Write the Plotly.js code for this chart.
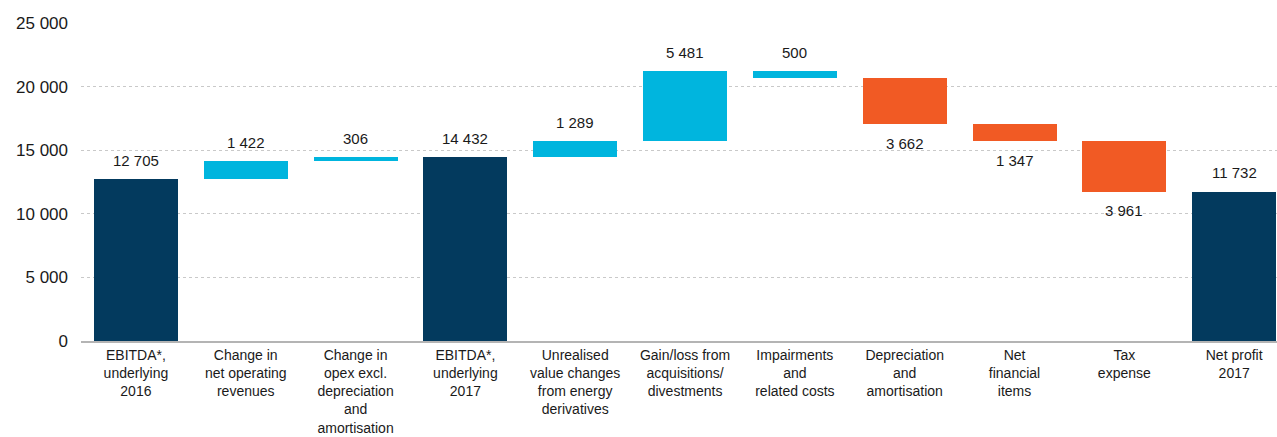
<!DOCTYPE html>
<html>
<head>
<meta charset="utf-8">
<script src="https://cdn.plot.ly/plotly-3.0.1.min.js"></script>
<style>
html,body{margin:0;padding:0;background:#fff;overflow:hidden;}
#chart{width:1277px;height:437px;}
</style>
</head>
<body>
<div id="chart"></div>
<script>
const categories = [
  "EBITDA*,<br>underlying<br>2016",
  "Change in<br>net operating<br>revenues",
  "Change in<br>opex excl.<br>depreciation<br>and<br>amortisation",
  "EBITDA*,<br>underlying<br>2017",
  "Unrealised<br>value changes<br>from energy<br>derivatives",
  "Gain/loss from<br>acquisitions/<br>divestments",
  "Impairments<br>and<br>related costs",
  "Depreciation<br>and<br>amortisation",
  "Net<br>financial<br>items",
  "Tax<br>expense",
  "Net profit<br>2017"
];
const values = [12705, 1422, 306, 14432, 1289, 5481, -500, -3662, -1347, -3961, 11732];
const kinds = ["total", "up", "up", "total", "up", "up", "up", "down", "down", "down", "total"];
const yTickValues = [0, 5000, 10000, 15000, 20000, 25000];

const COLORS = {total: "#033a5e", up: "#00b5de", down: "#f15a24"};

function fmt(n) {
  const s = String(Math.abs(n));
  return s.replace(/\B(?=(\d{3})+(?!\d))/g, " ");
}

const bases = [], heights = [], colors = [], annotations = [];
let running = 0;
values.forEach((v, i) => {
  const k = kinds[i];
  let base, h;
  if (k === "total") { base = 0; h = v; running = v; }
  else { base = running; h = v; running = running + v; }
  bases.push(base); heights.push(h); colors.push(COLORS[k]);
  const top = Math.max(base, base + h), bottom = Math.min(base, base + h);
  if (k === "down") {
    annotations.push({x: categories[i], y: bottom, xref: "x", yref: "y", text: fmt(v),
      showarrow: false, yanchor: "middle", yshift: -19});
  } else {
    annotations.push({x: categories[i], y: top, xref: "x", yref: "y", text: fmt(v),
      showarrow: false, yanchor: "middle", yshift: 19});
  }
});

const trace = {
  type: "bar",
  x: categories,
  y: heights,
  base: bases,
  marker: {color: colors, line: {width: 0}},
  width: 0.765,
  hoverinfo: "skip"
};

const layout = {
  width: 1277, height: 437,
  margin: {l: 81, r: 0, t: 23, b: 96},
  paper_bgcolor: "#ffffff", plot_bgcolor: "#ffffff",
  font: {family: "Liberation Sans, Arial, sans-serif", size: 15, color: "#1a1a1a"},
  separators: ". ",
  showlegend: false,
  bargap: 0,
  xaxis: {
    type: "category",
    range: [-0.5, 10.39],
    showgrid: false,
    showline: true, linecolor: "#b4b4b4", linewidth: 2,
    ticks: "", tickfont: {size: 14, color: "#1a1a1a"},
    zeroline: false, fixedrange: true
  },
  yaxis: {
    range: [0, 25000],
    tickvals: yTickValues,
    ticktext: yTickValues.map(fmt),
    showgrid: true, gridcolor: "#c9c9c9", griddash: "dot", gridwidth: 1,
    zeroline: false, showline: false,
    ticks: "", ticklabelstandoff: 12,
    tickfont: {size: 17, color: "#1a1a1a"},
    fixedrange: true
  },
  annotations: annotations.map(a => Object.assign(a, {font: {size: 15, color: "#1a1a1a"}}))
};

Plotly.newPlot("chart", [trace], layout, {displayModeBar: false, staticPlot: true});
</script>
</body>
</html>
